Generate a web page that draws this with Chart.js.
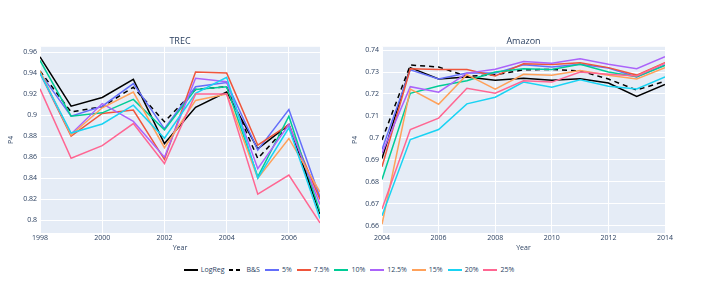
<!DOCTYPE html>
<html>
<head>
<meta charset="utf-8">
<script src="https://cdn.jsdelivr.net/npm/chart.js@4.4.1/dist/chart.umd.min.js"></script>
<style>
    body { margin: 0; background: #fff; width: 703px; height: 282px; position: relative; overflow: hidden; font-family: "Open Sans", sans-serif; }
    canvas { position: absolute; top: 0; }
    #trecChart { left: 0; }
    #amazonChart { left: 340px; }
    #legend { position: absolute; left: 0; top: 265px; width: 703px; display: flex; justify-content: center; align-items: center; font-size: 7px; color: #2a3f5f; }
    .item { display: flex; align-items: center; margin-right: 5px; }
    .swatch { display: inline-block; width: 14px; height: 2px; margin-right: 3px; }
</style>
</head>
<body>
<canvas id="trecChart" width="340" height="260"></canvas>
<canvas id="amazonChart" width="363" height="260"></canvas>
<div id="legend"></div>
<script>
var seriesNames = ['LogReg', 'B&S', '5%', '7.5%', '10%', '12.5%', '15%', '20%', '25%'];
var seriesColors = ['#000000', '#000000', '#636efa', '#EF553B', '#00cc96', '#ab63fa', '#FFA15A', '#19d3f3', '#FF6692'];

// TREC, 1998 - 2007
var trecYears = [1998, 1999, 2000, 2001, 2002, 2003, 2004, 2005, 2006, 2007];
var trecXTicks = [1998, 2000, 2002, 2004, 2006];
var trecYTicks = [0.8, 0.82, 0.84, 0.86, 0.88, 0.9, 0.92, 0.94, 0.96];
var trecLogReg = [0.9555, 0.9086, 0.9168, 0.9340, 0.8730, 0.9075, 0.9220, 0.8680, 0.8910, 0.8060];
var trecBS     = [0.9420, 0.9030, 0.9080, 0.9265, 0.8937, 0.9245, 0.9270, 0.8587, 0.8910, 0.8070];
var trec5      = [0.9400, 0.8990, 0.9085, 0.9300, 0.8870, 0.9270, 0.9310, 0.8667, 0.9054, 0.8220];
var trec75     = [0.9400, 0.8800, 0.9016, 0.9048, 0.8580, 0.9410, 0.9400, 0.8714, 0.8910, 0.8197];
var trec10     = [0.9520, 0.8990, 0.9022, 0.9150, 0.8860, 0.9245, 0.9270, 0.8413, 0.8990, 0.8080];
var trec125    = [0.9400, 0.8820, 0.9110, 0.8940, 0.8600, 0.9350, 0.9317, 0.8490, 0.8910, 0.8150];
var trec15     = [0.9420, 0.8810, 0.9070, 0.9220, 0.8690, 0.9140, 0.9200, 0.8400, 0.8778, 0.8270];
var trec20     = [0.9400, 0.8830, 0.8916, 0.9095, 0.8780, 0.9207, 0.9360, 0.8400, 0.8880, 0.8016];
var trec25     = [0.9250, 0.8590, 0.8710, 0.8920, 0.8540, 0.9200, 0.9200, 0.8248, 0.8430, 0.7975];

// Amazon, 2004 - 2014
var amazonYears = [2004, 2005, 2006, 2007, 2008, 2009, 2010, 2011, 2012, 2013, 2014];
var amazonXTicks = [2004, 2006, 2008, 2010, 2012, 2014];
var amazonYTicks = [0.66, 0.67, 0.68, 0.69, 0.7, 0.71, 0.72, 0.73, 0.74];
var amazonLogReg = [0.6906, 0.7320, 0.7268, 0.7277, 0.7262, 0.7272, 0.7262, 0.7269, 0.7250, 0.7189, 0.7243];
var amazonBS     = [0.6990, 0.7332, 0.7323, 0.7280, 0.7287, 0.7310, 0.7312, 0.7305, 0.7268, 0.7218, 0.7258];
var amazon5      = [0.6947, 0.7310, 0.7268, 0.7295, 0.7295, 0.7333, 0.7323, 0.7335, 0.7318, 0.7278, 0.7332];
var amazon75     = [0.6868, 0.7315, 0.7312, 0.7311, 0.7282, 0.7338, 0.7334, 0.7342, 0.7320, 0.7286, 0.7343];
var amazon10     = [0.6810, 0.7203, 0.7236, 0.7260, 0.7300, 0.7315, 0.7312, 0.7335, 0.7300, 0.7278, 0.7330];
var amazon125    = [0.6930, 0.7233, 0.7208, 0.7295, 0.7313, 0.7348, 0.7340, 0.7360, 0.7335, 0.7315, 0.7370];
var amazon15     = [0.6606, 0.7222, 0.7153, 0.7288, 0.7222, 0.7290, 0.7285, 0.7307, 0.7285, 0.7268, 0.7320];
var amazon20     = [0.6645, 0.6992, 0.7038, 0.7155, 0.7185, 0.7254, 0.7231, 0.7265, 0.7235, 0.7223, 0.7278];
var amazon25     = [0.6675, 0.7038, 0.7090, 0.7226, 0.7203, 0.7260, 0.7254, 0.7300, 0.7290, 0.7282, 0.7340];

var textColor = '#2a3f5f';
var fontFamily = '"Open Sans", sans-serif';

// grey-blue plot background like plotly
var plotBackground = {
    id: 'plotBackground',
    beforeDraw: function (chart) {
        var a = chart.chartArea;
        var ctx = chart.ctx;
        ctx.save();
        ctx.fillStyle = '#E5ECF6';
        ctx.fillRect(a.left, a.top, a.right - a.left, a.bottom - a.top);
        ctx.restore();
    }
};

function makeDatasets(years, allValues) {
    var sets = [];
    for (var i = 0; i < allValues.length; i++) {
        var points = [];
        for (var j = 0; j < years.length; j++) {
            points.push({ x: years[j], y: allValues[i][j] });
        }
        sets.push({
            label: seriesNames[i],
            data: points,
            borderColor: seriesColors[i],
            backgroundColor: seriesColors[i],
            borderWidth: 1.5,
            borderDash: i === 1 ? [5, 4] : [],
            pointRadius: 0,
            tension: 0,
            fill: false,
            order: allValues.length - 1 - i
        });
    }
    return sets;
}

function makeChart(id, title, years, allValues, xTicks, yTicks, yMin, yMax, cfg) {
    var ctx = document.getElementById(id).getContext('2d');
    return new Chart(ctx, {
        type: 'line',
        data: { datasets: makeDatasets(years, allValues) },
        plugins: [plotBackground],
        options: {
            responsive: false,
            animation: false,
            layout: { padding: { left: 0, right: cfg.padRight, top: 0, bottom: 0 } },
            scales: {
                x: {
                    type: 'linear',
                    min: years[0],
                    max: years[years.length - 1],
                    afterBuildTicks: function (scale) {
                        scale.ticks = xTicks.map(function (v) { return { value: v }; });
                    },
                    afterFit: function (scale) { scale.height = 27; },
                    grid: { color: '#ffffff', lineWidth: 1, drawTicks: false },
                    border: { display: false },
                    ticks: {
                        color: textColor,
                        padding: 1,
                        maxRotation: 0,
                        font: { family: fontFamily, size: 7 },
                        callback: function (value) { return String(value); }
                    },
                    title: {
                        display: true,
                        text: 'Year',
                        color: textColor,
                        font: { family: fontFamily, size: 7 },
                        padding: { top: 0, bottom: 8 }
                    }
                },
                y: {
                    min: yMin,
                    max: yMax,
                    afterBuildTicks: function (scale) {
                        scale.ticks = yTicks.map(function (v) { return { value: v }; });
                    },
                    afterFit: function (scale) { scale.width = cfg.yWidth; },
                    grid: { color: '#ffffff', lineWidth: 1, drawTicks: false },
                    border: { display: false },
                    ticks: {
                        color: textColor,
                        padding: 3,
                        font: { family: fontFamily, size: 7 },
                        callback: function (value) { return String(+value.toFixed(2)); }
                    },
                    title: {
                        display: true,
                        text: 'P4',
                        color: textColor,
                        font: { family: fontFamily, size: 7 },
                        padding: { top: cfg.yTitlePad, bottom: 0 }
                    }
                }
            },
            plugins: {
                legend: { display: false },
                tooltip: { enabled: false },
                title: {
                    display: true,
                    text: title,
                    fullSize: false,
                    color: textColor,
                    font: { family: fontFamily, size: 9, weight: 'normal' },
                    padding: { top: 36, bottom: 0 }
                }
            }
        }
    });
}

makeChart('trecChart', 'TREC', trecYears,
    [trecLogReg, trecBS, trec5, trec75, trec10, trec125, trec15, trec20, trec25],
    trecXTicks, trecYTicks, 0.7879, 0.965,
    { padRight: 20, yWidth: 40, yTitlePad: 7 });

makeChart('amazonChart', 'Amazon', amazonYears,
    [amazonLogReg, amazonBS, amazon5, amazon75, amazon10, amazon125, amazon15, amazon20, amazon25],
    amazonXTicks, amazonYTicks, 0.6566, 0.7415,
    { padRight: 38, yWidth: 42, yTitlePad: 11 });

// shared legend under both plots
var legend = document.getElementById('legend');
for (var i = 0; i < seriesNames.length; i++) {
    var item = document.createElement('div');
    item.className = 'item';
    var swatch = document.createElement('span');
    swatch.className = 'swatch';
    if (i === 1) {
        swatch.style.background = 'repeating-linear-gradient(to right, #000 0px, #000 4px, transparent 4px, transparent 7px)';
    } else {
        swatch.style.background = seriesColors[i];
    }
    var label = document.createElement('span');
    label.textContent = seriesNames[i];
    item.appendChild(swatch);
    item.appendChild(label);
    legend.appendChild(item);
}
</script>
</body>
</html>
